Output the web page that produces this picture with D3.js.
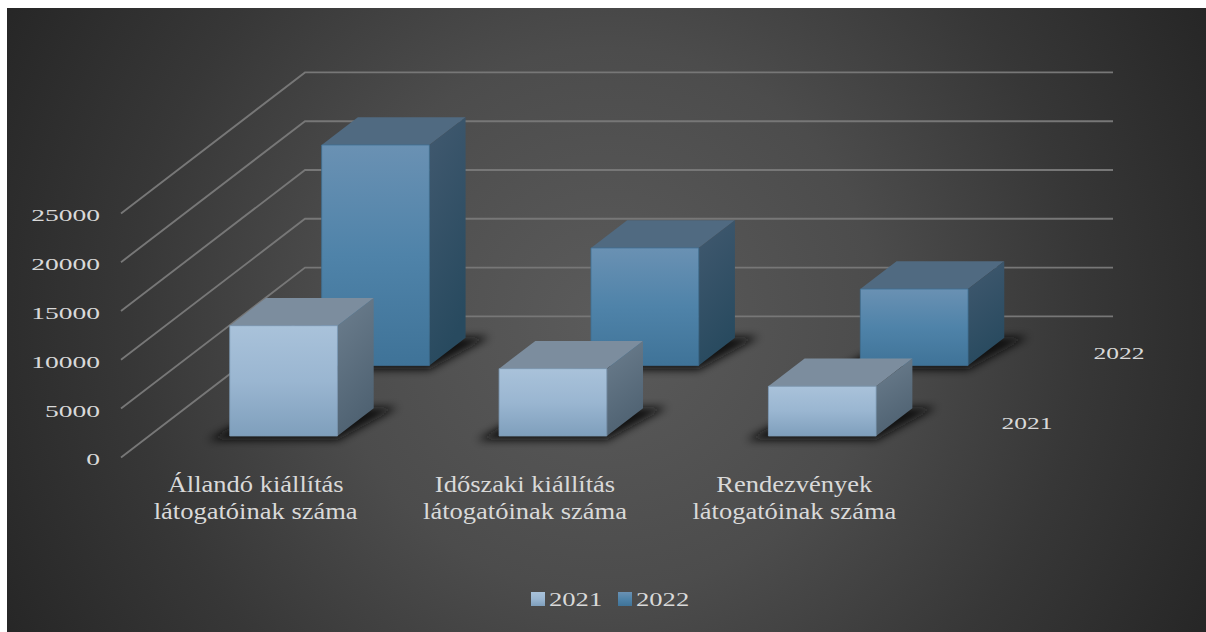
<!DOCTYPE html>
<html><head><meta charset="utf-8">
<script src="https://cdn.jsdelivr.net/npm/d3@7/dist/d3.min.js"></script>
<style>html,body{margin:0;padding:0;background:#fff;overflow:hidden}svg{display:block}
text{font-family:"Liberation Serif",serif;fill:#d9d9d9}</style></head><body>
<svg id="c" width="1206" height="632"></svg>
<script>
const categories=[["Állandó kiállítás","látogatóinak száma"],["Időszaki kiállítás","látogatóinak száma"],["Rendezvények","látogatóinak száma"]];
const seriesNames=["2021","2022"];
const values2021=[11300,6900,5100];
const values2022=[22600,12050,7840];
const valueTicks=[0,5000,10000,15000,20000,25000];
const seriesValues={"2021":values2021,"2022":values2022};

const svg=d3.select("#c"),defs=svg.append("defs");
const x=d3.scaleBand().domain([0,1,2]).range([0,808]).paddingInner(0.6).paddingOuter(0.3);
const z=d3.scaleBand().domain(seriesNames).range([0,1]).paddingInner(0.606).paddingOuter(0.304);
const h=d3.scaleLinear().domain([0,25000]).range([0,244]);
const P=(cx,zz,v)=>[121+cx+184*zz,457.4-141*zz-h(v)];
const pts=a=>a.map(p=>p.join(",")).join(" ");

function lin(id,x1,y1,x2,y2,stops){const g=defs.append("linearGradient").attr("id",id).attr("x1",x1).attr("y1",y1).attr("x2",x2).attr("y2",y2);
 stops.forEach((c,i)=>g.append("stop").attr("offset",i/(stops.length-1)).attr("stop-color",c));}
const bg=defs.append("radialGradient").attr("id","bg").attr("gradientUnits","userSpaceOnUse").attr("cx",606).attr("cy",320).attr("r",680);
[[0,"#5b5b5b"],[0.4,"#4c4c4c"],[0.7,"#373737"],[1,"#262626"]].forEach(s=>bg.append("stop").attr("offset",s[0]).attr("stop-color",s[1]));
lin("f2021",0,0,0,1,["#a9c2da","#9ab6d1","#7f9fbc"]);
lin("f2022",0,0,0,1,["#6a91b3","#4f83a9","#3f7398"]);
lin("s2021",0,0,0.3,1,["#6c7e8e","#4f6272"]);
lin("s2022",0,0,0.3,1,["#41596f","#284a5f"]);
const colors={"2021":{top:"#7c8d9e",edge:"#7e9ab5"},"2022":{top:"#506a81",edge:"#3f6f92"}};
defs.append("filter").attr("id","blur").attr("x","-20%").attr("y","-40%").attr("width","140%").attr("height","180%")
 .append("feGaussianBlur").attr("stdDeviation",4);

svg.append("rect").attr("x",7).attr("y",8).attr("width",1199).attr("height",624).attr("fill","url(#bg)");

const grid=svg.append("g").attr("fill","none").attr("stroke","#777").attr("stroke-width",1.9);
valueTicks.forEach(v=>{
 const a=P(0,0,v),b=P(0,1,v),c=P(x.range()[1],1,v);
 grid.append("polyline").attr("points",pts([a,b,c]));
});
const ticksG=svg.append("g");
valueTicks.forEach(v=>{
 ticksG.append("text").text(v).attr("text-anchor","end").attr("font-size",17)
  .attr("transform",`translate(100,${P(0,0,v)[1]+8}) scale(1.62,1)`);
});

const zd=z.bandwidth(),bw=x.bandwidth();
seriesNames.slice().reverse().forEach(s=>{
 const g=svg.append("g");
 seriesValues[s].forEach((v,i)=>{
  const x0=x(i),x1=x0+bw,z0=z(s),z1=z0+zd;
  const a=P(x0,z0,0),b=P(x1,z0,0),c=P(x1,z1,0),d=P(x0,z1,0);
  g.append("polygon").attr("fill","#0d0d0d").attr("opacity",0.95).attr("filter","url(#blur)")
   .attr("points",pts([[a[0]-22,a[1]+4],[b[0],b[1]+4],[c[0]+24,c[1]-1],[d[0],d[1]]]));
  const at=P(x0,z0,v),bt=P(x1,z0,v),ct=P(x1,z1,v),dt=P(x0,z1,v);
  g.append("polygon").attr("points",pts([at,bt,ct,dt])).attr("fill",colors[s].top);
  g.append("polygon").attr("points",pts([b,c,ct,bt])).attr("fill",`url(#s${s})`);
  g.append("polygon").attr("points",pts([a,b,bt,at])).attr("fill",`url(#f${s})`).attr("stroke",colors[s].edge).attr("stroke-width",0.8);
 });
});

categories.forEach((lines,i)=>{
 const cx=x(i)+bw/2+P(0,0,0)[0];
 lines.forEach((t,j)=>svg.append("text").text(t).attr("text-anchor","middle").attr("font-size",24)
  .attr("transform",`translate(${cx},${492+j*27}) scale(1.105,1)`));
});
seriesNames.forEach(s=>{
 const p=P(x.range()[1],z(s)+zd/2,0);
 svg.append("text").text(s).attr("text-anchor","middle").attr("font-size",17)
  .attr("transform",`translate(${p[0]+52},${p[1]+7}) scale(1.5,1)`);
});
const lx=[531,618];
seriesNames.forEach((s,i)=>{
 svg.append("rect").attr("x",lx[i]).attr("y",592).attr("width",14).attr("height",14).attr("fill",`url(#f${s})`);
 svg.append("text").text(s).attr("font-size",19).attr("transform",`translate(${lx[i]+18},605.5) scale(1.4,1)`);
});
</script></body></html>
